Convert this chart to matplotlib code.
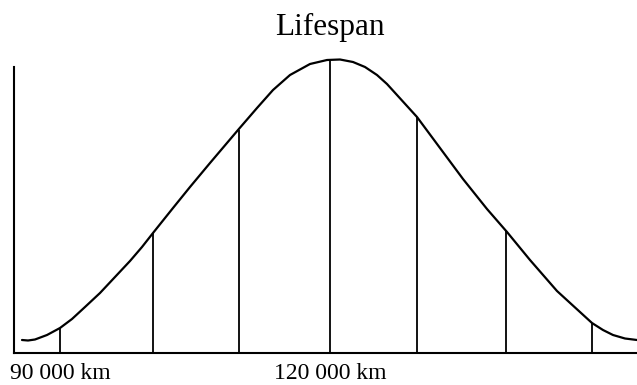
import matplotlib
matplotlib.use("Agg")
import matplotlib.pyplot as plt

# bell curve (km, height in arbitrary units)
CURVE_KM = [85778, 86444, 87222, 88556, 90000, 91333, 92778, 94444, 96111,
            97778, 99111, 100333, 102556, 104444, 106667, 109778, 111889,
            113667, 115556, 117778, 119667, 121111, 122556, 123889, 125222,
            126333, 127444, 129667, 132222, 134778, 137444, 139667, 142222,
            145222, 149111, 150333, 151444, 152778, 154111]
CURVE_H = [13, 12.5, 13.5, 18, 25, 34, 46, 60, 76, 92, 106, 120, 145, 166,
           190, 223, 245, 263, 278, 289, 293, 293.5, 291, 286, 278, 269, 258,
           236, 205, 174, 144, 121, 93, 62, 30, 23, 18, 14.5, 13]

# vertical markers under the curve
MARK_KM = [90000, 100300, 109900, 120000, 129700, 139600, 149100]
MARK_H = [25, 120, 223, 292, 236, 122, 30]

TICK_KM = [90000, 120000]
TICK_LABELS = ["90 000 km", "120 000 km"]

plt.rcParams["font.family"] = ["Liberation Serif", "DejaVu Serif"]

W, H = 637, 385
fig = plt.figure(figsize=(W / 100, H / 100), dpi=100)
ax = fig.add_axes([14 / W, (H - 353) / H, (W - 14) / W, (353 - 40) / H])

ax.plot(CURVE_KM, CURVE_H, color="black", linewidth=1.6,
        solid_joinstyle="round", solid_capstyle="round")
ax.vlines(MARK_KM, 0, MARK_H, color="black", linewidth=1.3)

ax.set_xlim(84889, 154111)
ax.set_ylim(0, 313)

for spine in ("top", "right"):
    ax.spines[spine].set_visible(False)
for spine in ("left", "bottom"):
    ax.spines[spine].set_linewidth(1.5)
ax.spines["left"].set_bounds(0, 286)

ax.set_yticks([])
ax.set_xticks(TICK_KM)
ax.set_xticklabels(TICK_LABELS, fontsize=17)
ax.tick_params(axis="x", length=0, pad=7.5)

fig.text(330 / W, 1 - 35 / H, "Lifespan", ha="center", va="baseline", fontsize=22.5)

fig.savefig("out.png", dpi=100, facecolor="white")
